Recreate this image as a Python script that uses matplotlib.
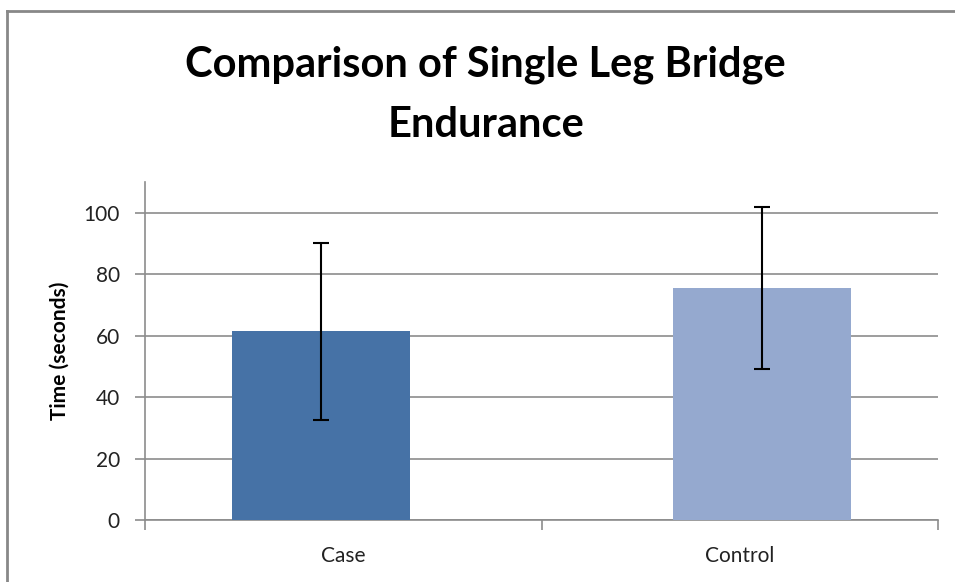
import matplotlib
matplotlib.use("Agg")
import matplotlib.pyplot as plt
from matplotlib.lines import Line2D

categories = ["Case", "Control"]
means = [61.4, 75.6]
errors = [28.9, 26.3]
colors = ["#4672A6", "#95A9CF"]
yticks = [0, 20, 40, 60, 80, 100]

plt.rcParams['font.family'] = ['Lato', 'DejaVu Sans']

fig = plt.figure(figsize=(9.55, 5.82), dpi=100)
W, H = 955, 582
ax = fig.add_axes([145 / W, 1 - 520 / H, (938 - 145) / W, (520 - 182) / H])

# bars are drawn slightly shifted outward from category centres (as in the original)
shift = 0.056
x = [i + (shift if i else -shift) for i in range(len(categories))]
ax.bar(x, means, width=0.45, color=colors, zorder=3)
ax.errorbar(x, means, yerr=errors, fmt='none', ecolor='black', elinewidth=1.5,
            capsize=6, capthick=1.5, zorder=4)

ax.set_xlim(-0.5, 1.5)
ax.set_ylim(0, 110)
ax.set_yticks(yticks)
ax.set_yticklabels([str(t) for t in yticks], fontsize=15, color='#222222')
ax.yaxis.grid(True, color='#8c8c8c', linewidth=1.2, zorder=0)
ax.set_axisbelow(True)

ax.set_xticks([-0.5, 0.5, 1.5])
ax.set_xticklabels([])
ax.set_xticks(range(len(categories)), minor=True)
ax.set_xticklabels(categories, minor=True, fontsize=15, color='#222222')
ax.tick_params(axis='x', which='minor', length=0, pad=19)
ax.tick_params(axis='x', which='major', length=7, color='#8c8c8c', width=1.2)
ax.tick_params(axis='y', length=7, color='#8c8c8c', width=1.2, pad=11)

for s in ['top', 'right']:
    ax.spines[s].set_visible(False)
for s in ['left', 'bottom']:
    ax.spines[s].set_color('#8c8c8c')
    ax.spines[s].set_linewidth(1.2)

ax.set_ylabel("Time (seconds)", fontsize=15, fontweight='bold', labelpad=10)

fig.text(485 / W, 1 - 77 / H, "Comparison of Single Leg Bridge", ha='center', va='baseline',
         fontsize=30, fontweight='bold')
fig.text(486 / W, 1 - 137 / H, "Endurance", ha='center', va='baseline',
         fontsize=30, fontweight='bold')

# outer chart border
fig.add_artist(Line2D([7 / W, 7 / W], [0, 1 - 11 / H], transform=fig.transFigure,
                      color='#888888', linewidth=2))
fig.add_artist(Line2D([7 / W, 1], [1 - 11 / H, 1 - 11 / H], transform=fig.transFigure,
                      color='#888888', linewidth=2))

fig.savefig("out.png", dpi=100)
